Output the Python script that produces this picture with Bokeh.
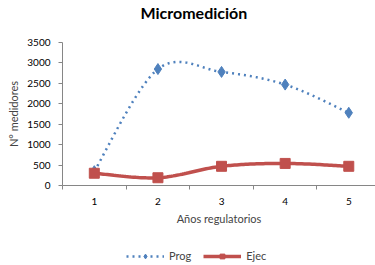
import numpy as np
from bokeh.plotting import figure
from bokeh.layouts import column
from bokeh.models import Range1d, FixedTicker, Legend, LegendItem, Title
from bokeh.embed import file_html
from bokeh.resources import INLINE

years = [1, 2, 3, 4, 5]
prog = [350, 2850, 2780, 2470, 1780]
ejec = [300, 190, 470, 540, 470]
y_ticks = [0, 500, 1000, 1500, 2000, 2500, 3000, 3500]
series_names = ["Prog", "Ejec"]

FONT = "Lato"
AX = "#868686"
BLUE = "#4F81BD"
RED = "#C0504D"


def smooth(xs, ys, n=30):
    xs = np.asarray(xs, float)
    ys = np.asarray(ys, float)
    px = np.concatenate([[xs[0]], xs, [xs[-1]]])
    py = np.concatenate([[ys[0]], ys, [ys[-1]]])
    ox, oy = [], []
    t = np.linspace(0, 1, n)
    for i in range(1, len(px) - 2):
        p0 = np.array([px[i], py[i]])
        p3 = np.array([px[i + 1], py[i + 1]])
        c1 = p0 + (np.array([px[i + 1], py[i + 1]]) - np.array([px[i - 1], py[i - 1]])) / 6
        c2 = p3 - (np.array([px[i + 2], py[i + 2]]) - np.array([px[i], py[i]])) / 6
        b = ((1 - t) ** 3)[:, None] * p0 + (3 * (1 - t) ** 2 * t)[:, None] * c1 + \
            (3 * (1 - t) * t ** 2)[:, None] * c2 + (t ** 3)[:, None] * p3
        ox.extend(b[:, 0]); oy.extend(b[:, 1])
    return ox, oy


def blank(h):
    f = figure(width=375, height=h, output_backend="svg", toolbar_location=None,
               x_range=Range1d(-10, -9), y_range=Range1d(-10, -9),
               min_border_left=0, min_border_right=0, min_border_top=0, min_border_bottom=0)
    f.axis.visible = False
    f.grid.visible = False
    f.outline_line_color = None
    return f


sx, sy = smooth(years, prog)
ex, ey = smooth(years, ejec)

# --- title strip ---
pt = blank(30)
pt.title = Title(text="Micromedición", text_font=FONT, text_font_size="16px",
                 text_font_style="bold", align="left", offset=78, standoff=1,
                 text_color="#000000")

# --- main chart ---
p = figure(width=375, height=202, output_backend="svg", toolbar_location=None,
           x_range=Range1d(0.5, 5.42), y_range=Range1d(0, 3500),
           min_border_left=62, min_border_right=0, min_border_top=12, min_border_bottom=47)
p.outline_line_color = None
p.grid.visible = False

p.line(sx, sy, line_color=BLUE, line_width=2.5, line_dash="2 4")
p.scatter(years, prog, marker="diamond", size=11, fill_color=BLUE, line_color=BLUE)
p.line(ex, ey, line_color=RED, line_width=3.5)
p.scatter(years, ejec, marker="square", size=10, fill_color=RED, line_color=RED)

p.xaxis.ticker = FixedTicker(ticks=years, minor_ticks=[0.5, 1.5, 2.5, 3.5, 4.5, 5.5])
p.xaxis.major_tick_line_color = None
p.xaxis.minor_tick_line_color = AX
p.xaxis.minor_tick_out = 4
p.xaxis.minor_tick_in = 0
p.xaxis.axis_line_color = AX
p.xaxis.major_label_text_font = FONT
p.xaxis.major_label_text_font_size = "10px"
p.xaxis.major_label_text_color = "#000000"
p.xaxis.major_label_standoff = 6
p.xaxis.axis_label = "Años regulatorios"
p.xaxis.axis_label_text_font = FONT
p.xaxis.axis_label_text_font_size = "11px"
p.xaxis.axis_label_text_font_style = "normal"
p.xaxis.axis_label_standoff = 4

p.yaxis.ticker = FixedTicker(ticks=y_ticks)
p.yaxis.minor_tick_line_color = None
p.yaxis.major_tick_line_color = AX
p.yaxis.major_tick_out = 4
p.yaxis.major_tick_in = 0
p.yaxis.axis_line_color = AX
p.yaxis.major_label_text_font = FONT
p.yaxis.major_label_text_font_size = "10px"
p.yaxis.major_label_text_color = "#000000"
p.yaxis.major_label_standoff = 8
p.yaxis.axis_label = "N° medidores"
p.yaxis.axis_label_text_font = FONT
p.yaxis.axis_label_text_font_size = "11px"
p.yaxis.axis_label_text_font_style = "normal"
p.yaxis.axis_label_standoff = 4

# --- legend strip (same series and styles, data lies outside its view) ---
pl = blank(33)
lg1 = pl.line(sx, sy, line_color=BLUE, line_width=2.5, line_dash="2 4")
mg1 = pl.scatter(years, prog, marker="diamond", size=11, fill_color=BLUE, line_color=BLUE)
lg2 = pl.line(ex, ey, line_color=RED, line_width=3.5)
mg2 = pl.scatter(years, ejec, marker="square", size=10, fill_color=RED, line_color=RED)
legend = Legend(items=[LegendItem(label=series_names[0], renderers=[lg1, mg1]),
                       LegendItem(label=series_names[1], renderers=[lg2, mg2])],
                orientation="horizontal", location=(64, 3),
                glyph_width=38, glyph_height=12, label_standoff=5, spacing=12,
                padding=0, margin=0, border_line_alpha=0, background_fill_alpha=0,
                label_text_font=FONT, label_text_font_size="11px")
pl.add_layout(legend, "center")

layout = column(pt, p, pl, spacing=0)
open("out.html", "w").write(file_html(layout, INLINE))
